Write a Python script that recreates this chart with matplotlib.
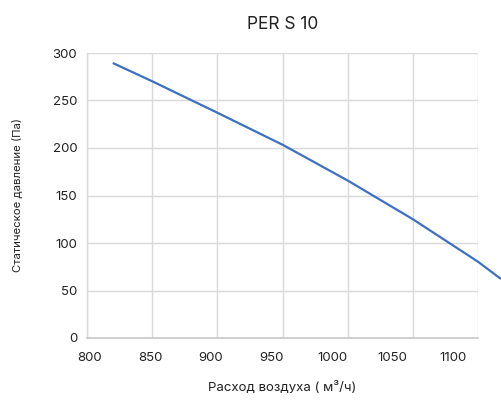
import numpy as np
import matplotlib
matplotlib.use('Agg')
import matplotlib.pyplot as plt

plt.rcParams['font.family'] = ['Inter', 'DejaVu Sans']

# Fan curve
airflow = [818.8, 852.1, 905.8, 959.5, 1013.2, 1066.9, 1120.7, 1139.7]
pressure = [289.5, 269.8, 236.8, 203.2, 165.6, 125.0, 80.3, 62.1]

x_ticks = [800, 850, 900, 950, 1000, 1050, 1100]
y_ticks = [0, 50, 100, 150, 200, 250, 300]
x_range = (797.5, 1120.7)

fig = plt.figure(figsize=(5.01, 4.08), dpi=100)
fig.patch.set_facecolor('white')
ax = fig.add_axes([87 / 501, 1 - 338 / 408, (478 - 87) / 501, (338 - 53) / 408])

ax.plot(airflow, pressure, color='#3f6fbf', linewidth=1.6, clip_on=False,
        solid_capstyle='butt', solid_joinstyle='round', zorder=3)

ax.set_xlim(*x_range)
ax.set_ylim(0, 300)

ax.set_xticks(x_ticks)
ax.set_xticks(np.linspace(x_range[0], x_range[1], 7), minor=True)
ax.set_yticks(y_ticks)
ax.grid(False, axis='x', which='major')
ax.grid(True, axis='x', which='minor', color='#d9d9d9', linewidth=1)
ax.grid(True, axis='y', which='major', color='#d9d9d9', linewidth=1)
ax.set_axisbelow(True)

ax.tick_params(axis='both', which='both', length=0, labelsize=9.5, colors='#222222')
ax.tick_params(axis='x', pad=10)
ax.tick_params(axis='y', pad=7)

for s in ['top', 'right']:
    ax.spines[s].set_visible(False)
ax.spines['left'].set_color('#d9d9d9')
ax.spines['bottom'].set_color('#c8c8c8')
ax.spines['left'].set_linewidth(1)
ax.spines['bottom'].set_linewidth(1.2)

ax.set_title('PER S 10', fontsize=12.5, pad=17, color='#222222')
ax.set_xlabel('Расход воздуха ( м³/ч)', fontsize=9.5, labelpad=12, color='#222222')
ax.set_ylabel('Статическое давление (Па)', fontsize=8.2, labelpad=22, color='#222222')

fig.savefig('out.png', dpi=100, facecolor='white')
